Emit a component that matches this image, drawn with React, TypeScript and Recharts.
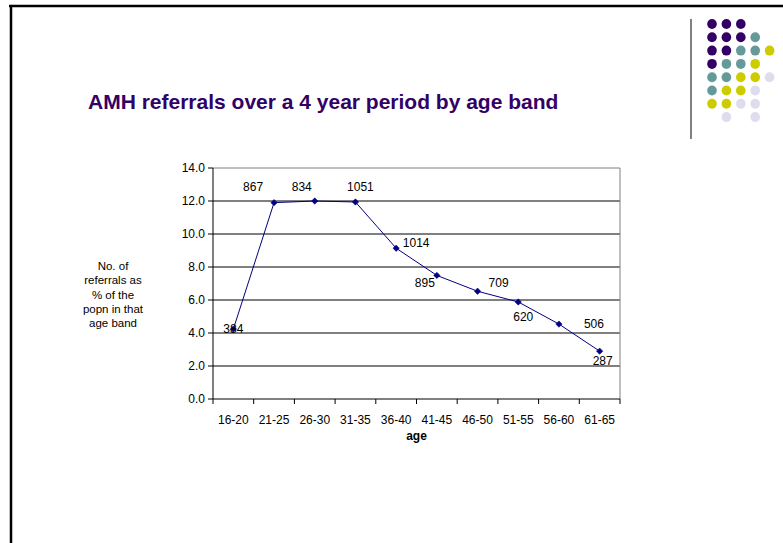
import React from 'react';
import { LineChart, Line, XAxis, YAxis, CartesianGrid, ReferenceLine, LabelList } from 'recharts';

const ageBands = ['16-20', '21-25', '26-30', '31-35', '36-40', '41-45', '46-50', '51-55', '56-60', '61-65'];
const referralPct = [4.24, 11.9, 12.0, 11.94, 9.14, 7.49, 6.53, 5.88, 4.54, 2.9];
const referralCounts = [384, 867, 834, 1051, 1014, 895, 709, 620, 506, 287];
const yTicks = [0, 2, 4, 6, 8, 10, 12, 14];
const gridValues = [2, 4, 6, 8, 10, 12];

// label placement offsets (dx, dy) relative to each point, as in the original slide
const labelOffsets: [number, number][] = [
  [0, 0], [-21, -16], [-13, -14], [5, -15], [20, -5], [-12, 8], [21, -8], [5, 15], [35, 0], [3, 10],
];

const data = ageBands.map((age, i) => ({
  pos: i + 0.5,
  age,
  pct: referralPct[i],
  count: referralCounts[i],
}));

const boundaryTicks = ageBands.map((_, i) => i).concat([ageBands.length]);
const centerTicks = ageBands.map((_, i) => i + 0.5);

const FONT = '"Liberation Sans", Arial, Helvetica, sans-serif';
const NAVY = '#000080';

const Diamond = (props: any) => {
  const { cx, cy } = props;
  if (cx == null || cy == null) return null;
  const r = 3.2;
  return <polygon points={`${cx},${cy - r} ${cx + r},${cy} ${cx},${cy + r} ${cx - r},${cy}`} fill={NAVY} stroke={NAVY} strokeWidth={0.5} />;
};

const CountLabel = (props: any) => {
  const { x, y, index, value } = props;
  if (x == null || y == null) return null;
  const [dx, dy] = labelOffsets[index] || [0, -12];
  return (
    <text x={x + dx} y={y + dy + 4} textAnchor="middle" fontSize={12} fontFamily={FONT} fill="#000">
      {value}
    </text>
  );
};

const dotRows: string[] = ['PPP', 'PPPT', 'PPTTY', 'PTTY', 'TTYYL', 'TYYL', 'YYLL', '_L_L'];
const dotColors: Record<string, string> = { P: '#330066', T: '#669999', Y: '#CCCC00', L: '#DDDDEE' };

export default function App() {
  return (
    <div style={{ position: 'absolute', left: 0, top: 0, width: 783, height: 543, background: '#fff', overflow: 'hidden', fontFamily: FONT }}>
      <svg width={783} height={543} style={{ position: 'absolute', left: 0, top: 0 }}>
        <line x1={9} y1={6} x2={783} y2={6} stroke="#000" strokeWidth={2.5} />
        <line x1={11} y1={5} x2={11} y2={543} stroke="#000" strokeWidth={2.5} />
        <line x1={691} y1={19} x2={691} y2={139} stroke="#808080" strokeWidth={2} />
        {dotRows.map((row, r) =>
          row.split('').map((c, k) =>
            c === '_' ? null : (
              <ellipse key={`${r}-${k}`} cx={712 + k * 14.4} cy={24 + r * 13.3} rx={4.8} ry={5} fill={dotColors[c]} />
            )
          )
        )}
        <text x={88} y={109} fontSize={21} fontWeight="bold" fontFamily={FONT} fill="#330066">
          AMH referrals over a 4 year period by age band
        </text>
        <text textAnchor="middle" fontSize={11.5} fontFamily={FONT} fill="#000">
          <tspan x={113} y={270}>No. of</tspan>
          <tspan x={113} y={284.3}>referrals as</tspan>
          <tspan x={113} y={298.6}>% of the</tspan>
          <tspan x={113} y={313}>popn in that</tspan>
          <tspan x={113} y={327.3}>age band</tspan>
        </text>
        <text x={416.5} y={440} textAnchor="middle" fontSize={12} fontWeight="bold" fontFamily={FONT} fill="#000">
          age
        </text>
      </svg>
      <div style={{ position: 'absolute', left: 0, top: 0 }}>
        <LineChart width={783} height={543} data={data} margin={{ top: 168, right: 163, bottom: 104, left: 173 }}>
          {gridValues.map((v) => (
            <ReferenceLine key={v} y={v} xAxisId="b" stroke="#000" strokeWidth={1} />
          ))}
          <ReferenceLine y={14} xAxisId="b" stroke="#808080" strokeWidth={1} />
          <ReferenceLine x={10} xAxisId="b" stroke="#808080" strokeWidth={1} />
          <XAxis
            xAxisId="b"
            type="number"
            dataKey="pos"
            domain={[0, 10]}
            ticks={boundaryTicks}
            tickFormatter={() => ''}
            stroke="#000"
            tickSize={5}
            height={10}
            interval={0}
            allowDataOverflow
          />
          <XAxis
            xAxisId="l"
            type="number"
            dataKey="pos"
            domain={[0, 10]}
            ticks={centerTicks}
            tickFormatter={(v: number) => ageBands[Math.round(v - 0.5)] ?? ''}
            axisLine={false}
            tickLine={false}
            tick={{ fontSize: 12, fontFamily: FONT, fill: '#000' }}
            tickMargin={0}
            height={30}
            interval={0}
            allowDataOverflow
          />
          <YAxis
            type="number"
            domain={[0, 14]}
            ticks={yTicks}
            tickFormatter={(v: number) => v.toFixed(1)}
            stroke="#000"
            tickSize={5}
            tickMargin={3}
            width={40}
            interval={0}
            tick={{ fontSize: 12, fontFamily: FONT, fill: '#000' }}
          />
          <Line
            xAxisId="b"
            type="linear"
            dataKey="pct"
            stroke={NAVY}
            strokeWidth={1}
            dot={<Diamond />}
            activeDot={false}
            isAnimationActive={false}
          >
            <LabelList dataKey="count" content={<CountLabel />} />
          </Line>
        </LineChart>
      </div>
    </div>
  );
}
